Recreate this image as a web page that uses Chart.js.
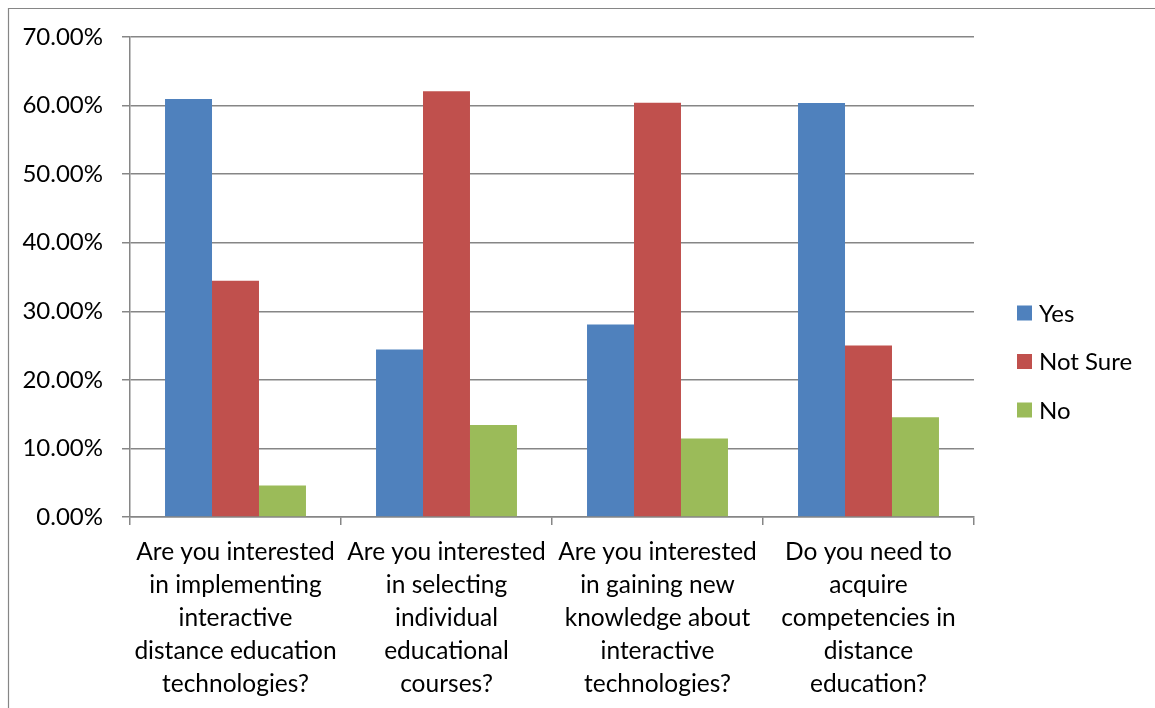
<!DOCTYPE html>
<html>
<head>
<meta charset="utf-8">
<script src="https://cdn.jsdelivr.net/npm/chart.js@4/dist/chart.umd.min.js"></script>
<style>
  html, body { margin: 0; padding: 0; background: #fff; }
  #wrap { position: relative; width: 1155px; height: 708px; }
</style>
</head>
<body>
<div id="wrap"><canvas id="chart" width="1155" height="708"></canvas></div>
<script>
const categories = [
  ["Are you interested", "in implementing", "interactive", "distance education", "technologies?"],
  ["Are you interested", "in selecting", "individual", "educational", "courses?"],
  ["Are you interested", "in gaining new", "knowledge about", "interactive", "technologies?"],
  ["Do you need to", "acquire", "competencies in", "distance", "education?"]
];
const seriesNames = ["Yes", "Not Sure", "No"];
const yesValues = [60.95, 24.42, 28.07, 60.38];
const notSureValues = [34.45, 62.08, 60.40, 25.00];
const noValues = [4.61, 13.43, 11.43, 14.54];
const seriesColors = ["#4F81BD", "#C0504D", "#9BBB59"];
const yTicks = [0, 10, 20, 30, 40, 50, 60, 70];

const FONT = "Lato, 'Open Sans', sans-serif";
const GRID = "#868686";

// Outer frame of the chart object (left and top edges)
const framePlugin = {
  id: 'frame',
  beforeDraw(chart) {
    const ctx = chart.ctx;
    ctx.save();
    ctx.fillStyle = '#fff';
    ctx.fillRect(0, 0, chart.width, chart.height);
    ctx.strokeStyle = GRID;
    ctx.lineWidth = 1.2;
    ctx.beginPath();
    ctx.moveTo(8.5, chart.height);
    ctx.lineTo(8.5, 8.5);
    ctx.lineTo(chart.width, 8.5);
    ctx.stroke();
    ctx.restore();
  }
};

// Legend drawn at the right side of the plot
const sideLegend = {
  id: 'sideLegend',
  afterDraw(chart) {
    const ctx = chart.ctx;
    ctx.save();
    ctx.font = "24px " + FONT;
    ctx.textBaseline = 'middle';
    ctx.textAlign = 'left';
    chart.data.datasets.forEach((ds, i) => {
      const cy = 313 + i * 48.5;
      ctx.fillStyle = ds.backgroundColor;
      ctx.fillRect(1017, cy - 7.5, 15, 15);
      ctx.fillStyle = '#000';
      ctx.fillText(ds.label, 1039, cy + 1);
    });
    ctx.restore();
  }
};

new Chart(document.getElementById('chart'), {
  type: 'bar',
  data: {
    labels: categories,
    datasets: [
      { label: seriesNames[0], data: yesValues, backgroundColor: seriesColors[0] },
      { label: seriesNames[1], data: notSureValues, backgroundColor: seriesColors[1] },
      { label: seriesNames[2], data: noValues, backgroundColor: seriesColors[2] }
    ]
  },
  options: {
    responsive: false,
    animation: false,
    devicePixelRatio: 1,
    layout: { padding: { left: 0, right: 181, top: 37, bottom: 0 } },
    datasets: { bar: { categoryPercentage: 0.668, barPercentage: 1.0 } },
    plugins: {
      legend: { display: false },
      tooltip: { enabled: false },
      title: { display: false }
    },
    scales: {
      x: {
        afterFit(scale) { scale.height = 191; },
        grid: {
          display: true,
          drawOnChartArea: false,
          drawTicks: true,
          tickLength: 8,
          color: GRID,
          lineWidth: 1.5,
          offset: true
        },
        border: { display: true, color: GRID, width: 1.5 },
        ticks: {
          color: '#000',
          font: { family: FONT, size: 24.5, lineHeight: 1.347 },
          padding: 11,
          maxRotation: 0,
          minRotation: 0,
          autoSkip: false
        }
      },
      y: {
        min: 0,
        max: 70,
        afterFit(scale) { scale.width = 130; },
        afterBuildTicks(scale) { scale.ticks = yTicks.map(v => ({ value: v })); },
        grid: {
          color: GRID,
          lineWidth: 1.5,
          tickLength: 8,
          drawTicks: true
        },
        border: { display: true, color: GRID, width: 1.5 },
        ticks: {
          color: '#000',
          font: { family: FONT, size: 24 },
          padding: 19,
          callback: v => Number(v).toFixed(2) + '%'
        }
      }
    }
  },
  plugins: [framePlugin, sideLegend]
});
</script>
</body>
</html>
